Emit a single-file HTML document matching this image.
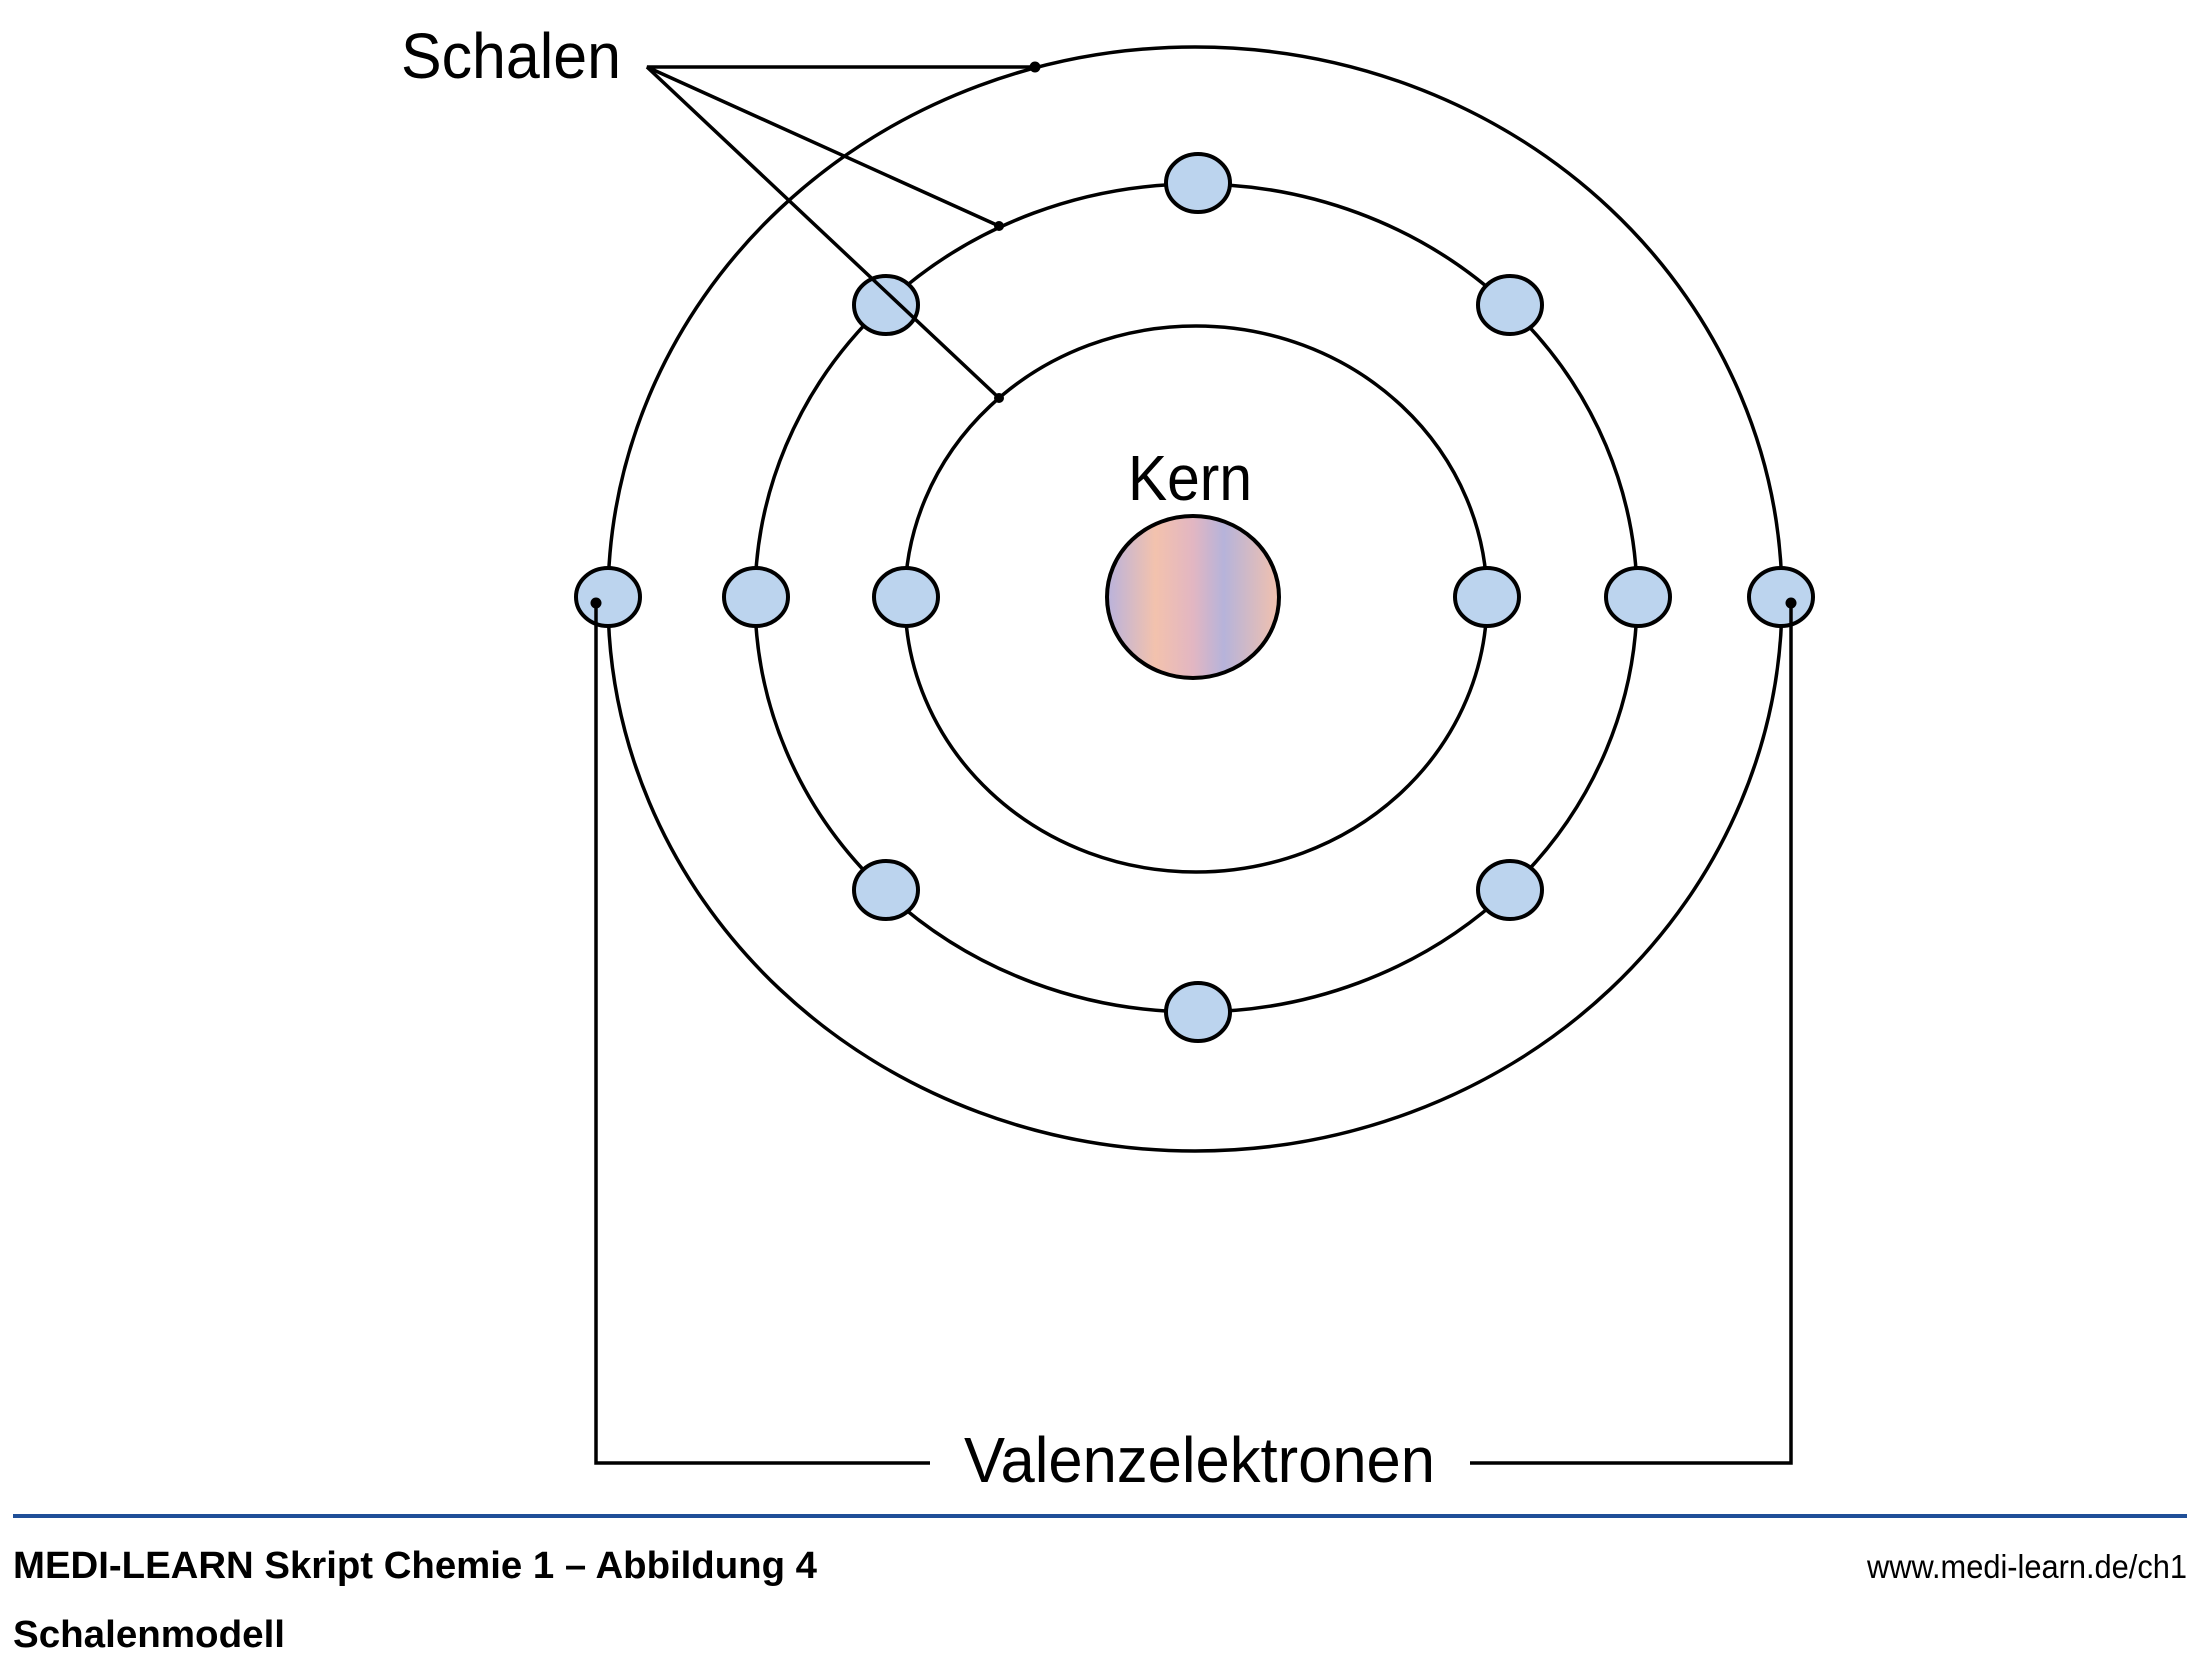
<!DOCTYPE html>
<html><head><meta charset="utf-8"><style>
html,body{margin:0;padding:0;background:#fff;}
svg{display:block;}
text{font-family:"Liberation Sans",sans-serif;}
</style></head><body>
<svg width="2210" height="1663" viewBox="0 0 2210 1663" xmlns="http://www.w3.org/2000/svg">
<defs>
<linearGradient id="ng" x1="0" y1="0" x2="1" y2="0">
<stop offset="0" stop-color="#b9b2dc"/>
<stop offset="0.28" stop-color="#f3c2ad"/>
<stop offset="0.5" stop-color="#e2b6c2"/>
<stop offset="0.68" stop-color="#b6b3da"/>
<stop offset="1" stop-color="#f2c1ad"/>
</linearGradient>
</defs>
<g fill="none" stroke="#000" stroke-width="3.5">
<ellipse cx="1195" cy="599" rx="587" ry="552"/>
<ellipse cx="1196" cy="598" rx="441" ry="414"/>
<ellipse cx="1196" cy="599" rx="291" ry="273"/>
</g>
<ellipse cx="1193" cy="597" rx="86" ry="81" fill="url(#ng)" stroke="#000" stroke-width="4"/>
<g fill="#bcd4ee" stroke="#000" stroke-width="4">
<ellipse cx="608" cy="597" rx="32" ry="29"/>
<ellipse cx="756" cy="597" rx="32" ry="29"/>
<ellipse cx="906" cy="597" rx="32" ry="29"/>
<ellipse cx="1487" cy="597" rx="32" ry="29"/>
<ellipse cx="1638" cy="597" rx="32" ry="29"/>
<ellipse cx="1781" cy="597" rx="32" ry="29"/>
<ellipse cx="1198" cy="183" rx="32" ry="29"/>
<ellipse cx="1198" cy="1012" rx="32" ry="29"/>
<ellipse cx="886" cy="305" rx="32" ry="29"/>
<ellipse cx="1510" cy="305" rx="32" ry="29"/>
<ellipse cx="886" cy="890" rx="32" ry="29"/>
<ellipse cx="1510" cy="890" rx="32" ry="29"/>
</g>
<g stroke="#000" stroke-width="3.5" fill="none">
<polyline points="1035,67 647,67 999,226"/>
<line x1="647" y1="67" x2="999" y2="398"/>
<polyline points="596,603 596,1463 930,1463"/>
<polyline points="1470,1463 1791,1463 1791,603"/>
</g>
<g fill="#000">
<circle cx="1035" cy="67" r="5.5"/>
<circle cx="999" cy="226" r="5"/>
<circle cx="999" cy="398" r="5"/>
<circle cx="596" cy="603" r="5.5"/>
<circle cx="1791" cy="603" r="5.5"/>
</g>
<text x="401" y="78" font-size="64" textLength="220" lengthAdjust="spacingAndGlyphs">Schalen</text>
<text x="1128" y="500" font-size="64" textLength="124" lengthAdjust="spacingAndGlyphs">Kern</text>
<text x="964" y="1482" font-size="64" textLength="471" lengthAdjust="spacingAndGlyphs">Valenzelektronen</text>
<rect x="13" y="1514" width="2174" height="4" fill="#1f4f98"/>
<text x="13" y="1578" font-size="38" font-weight="bold" textLength="804" lengthAdjust="spacingAndGlyphs">MEDI-LEARN Skript Chemie 1 – Abbildung 4</text>
<text x="13" y="1647" font-size="38" font-weight="bold" textLength="272" lengthAdjust="spacingAndGlyphs">Schalenmodell</text>
<text x="1867" y="1578" font-size="33" textLength="320" lengthAdjust="spacingAndGlyphs">www.medi-learn.de/ch1</text>
</svg>
</body></html>
